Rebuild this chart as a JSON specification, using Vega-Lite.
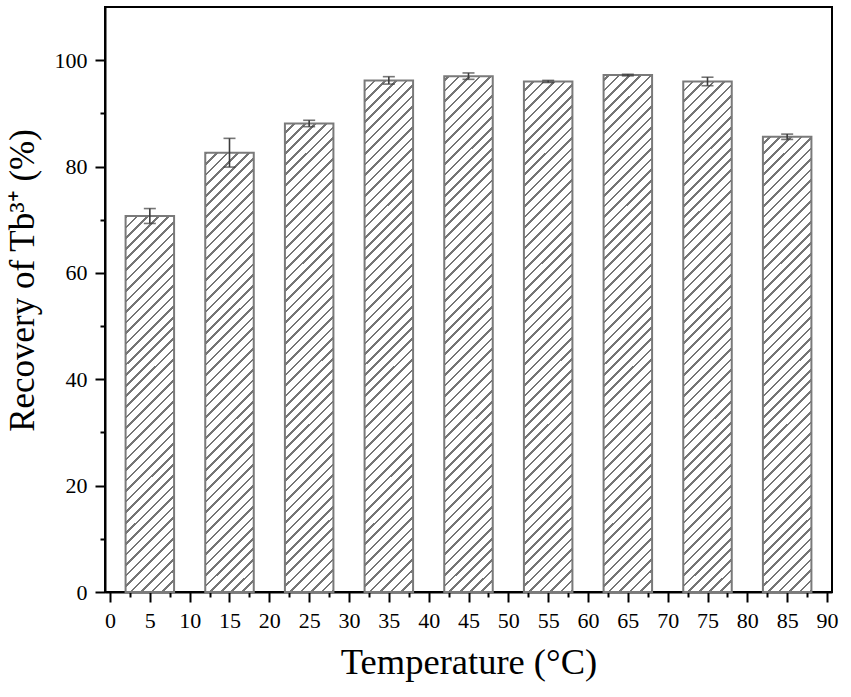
{
  "$schema": "https://vega.github.io/schema/vega-lite/v6.json",
  "autosize": {"type": "none"},
  "width": 727,
  "height": 585,
  "padding": {"left": 105, "top": 7, "right": 19, "bottom": 105},
  "background": "white",
  "config": {
    "view": {"stroke": "black", "strokeWidth": 2},
    "axis": {
      "grid": false,
      "domainColor": "black",
      "domainWidth": 2,
      "tickColor": "black",
      "tickWidth": 2,
      "labelFont": "Liberation Serif",
      "labelFontSize": 22,
      "labelColor": "black",
      "titleFont": "Liberation Serif",
      "titleFontWeight": "normal",
      "titleColor": "black",
      "labelOverlap": false,
      "labelFlush": false,
      "labelBound": false
    }
  },
  "data": {
    "values": [
      {"T": 5, "R": 70.7, "E": 1.4},
      {"T": 15, "R": 82.6, "E": 2.7},
      {"T": 25, "R": 88.1, "E": 0.6},
      {"T": 35, "R": 96.2, "E": 0.7},
      {"T": 45, "R": 97.0, "E": 0.6},
      {"T": 55, "R": 96.0, "E": 0.2},
      {"T": 65, "R": 97.2, "E": 0.15},
      {"T": 75, "R": 96.0, "E": 0.8},
      {"T": 85, "R": 85.6, "E": 0.5}
    ]
  },
  "encoding": {
    "x": {
      "field": "T",
      "type": "quantitative",
      "scale": {"domain": [0, 90], "nice": false, "zero": false},
      "axis": {
        "title": "Temperature (°C)",
        "titleFontSize": 36.5,
        "titlePadding": 13,
        "values": [0, 2.5, 5, 7.5, 10, 12.5, 15, 17.5, 20, 22.5, 25, 27.5, 30, 32.5, 35, 37.5, 40, 42.5, 45, 47.5, 50, 52.5, 55, 57.5, 60, 62.5, 65, 67.5, 70, 72.5, 75, 77.5, 80, 82.5, 85, 87.5, 90],
        "labelExpr": "datum.value % 5 === 0 ? format(datum.value, 'd') : ''",
        "tickSize": {"condition": {"test": "datum.value % 5 !== 0", "value": 5}, "value": 10},
        "labelPadding": 8
      }
    },
    "y": {
      "field": "R",
      "type": "quantitative",
      "scale": {"domain": [0, 110], "nice": false},
      "axis": {
        "title": "Recovery of Tb³⁺ (%)",
        "titleFontSize": 35,
        "titlePadding": 14,
        "titleY": 273,
        "values": [0, 10, 20, 30, 40, 50, 60, 70, 80, 90, 100],
        "labelExpr": "datum.value % 20 === 0 ? format(datum.value, 'd') : ''",
        "tickSize": {"condition": {"test": "datum.value % 20 !== 0", "value": 5}, "value": 10},
        "labelPadding": 8
      }
    }
  },
  "layer": [
    {
      "mark": {
        "type": "bar",
        "width": 48.5,
        "stroke": null,
        "fill": {
          "gradient": "linear",
          "x1": 0, "y1": 0, "x2": 0.0892, "y2": 1.0755,
          "stops": [
            {"offset": 0, "color": "#fff"},
            {"offset": 0.0125, "color": "#fff"}, {"offset": 0.0125, "color": "#757575"}, {"offset": 0.0167, "color": "#757575"}, {"offset": 0.0167, "color": "#fff"},
            {"offset": 0.0292, "color": "#fff"}, {"offset": 0.0292, "color": "#757575"}, {"offset": 0.0333, "color": "#757575"}, {"offset": 0.0333, "color": "#fff"},
            {"offset": 0.0458, "color": "#fff"}, {"offset": 0.0458, "color": "#757575"}, {"offset": 0.05, "color": "#757575"}, {"offset": 0.05, "color": "#fff"},
            {"offset": 0.0625, "color": "#fff"}, {"offset": 0.0625, "color": "#757575"}, {"offset": 0.0667, "color": "#757575"}, {"offset": 0.0667, "color": "#fff"},
            {"offset": 0.0792, "color": "#fff"}, {"offset": 0.0792, "color": "#757575"}, {"offset": 0.0833, "color": "#757575"}, {"offset": 0.0833, "color": "#fff"},
            {"offset": 0.0958, "color": "#fff"}, {"offset": 0.0958, "color": "#757575"}, {"offset": 0.1, "color": "#757575"}, {"offset": 0.1, "color": "#fff"},
            {"offset": 0.1125, "color": "#fff"}, {"offset": 0.1125, "color": "#757575"}, {"offset": 0.1167, "color": "#757575"}, {"offset": 0.1167, "color": "#fff"},
            {"offset": 0.1292, "color": "#fff"}, {"offset": 0.1292, "color": "#757575"}, {"offset": 0.1333, "color": "#757575"}, {"offset": 0.1333, "color": "#fff"},
            {"offset": 0.1458, "color": "#fff"}, {"offset": 0.1458, "color": "#757575"}, {"offset": 0.15, "color": "#757575"}, {"offset": 0.15, "color": "#fff"},
            {"offset": 0.1625, "color": "#fff"}, {"offset": 0.1625, "color": "#757575"}, {"offset": 0.1667, "color": "#757575"}, {"offset": 0.1667, "color": "#fff"},
            {"offset": 0.1792, "color": "#fff"}, {"offset": 0.1792, "color": "#757575"}, {"offset": 0.1833, "color": "#757575"}, {"offset": 0.1833, "color": "#fff"},
            {"offset": 0.1958, "color": "#fff"}, {"offset": 0.1958, "color": "#757575"}, {"offset": 0.2, "color": "#757575"}, {"offset": 0.2, "color": "#fff"},
            {"offset": 0.2125, "color": "#fff"}, {"offset": 0.2125, "color": "#757575"}, {"offset": 0.2167, "color": "#757575"}, {"offset": 0.2167, "color": "#fff"},
            {"offset": 0.2292, "color": "#fff"}, {"offset": 0.2292, "color": "#757575"}, {"offset": 0.2333, "color": "#757575"}, {"offset": 0.2333, "color": "#fff"},
            {"offset": 0.2458, "color": "#fff"}, {"offset": 0.2458, "color": "#757575"}, {"offset": 0.25, "color": "#757575"}, {"offset": 0.25, "color": "#fff"},
            {"offset": 0.2625, "color": "#fff"}, {"offset": 0.2625, "color": "#757575"}, {"offset": 0.2667, "color": "#757575"}, {"offset": 0.2667, "color": "#fff"},
            {"offset": 0.2792, "color": "#fff"}, {"offset": 0.2792, "color": "#757575"}, {"offset": 0.2833, "color": "#757575"}, {"offset": 0.2833, "color": "#fff"},
            {"offset": 0.2958, "color": "#fff"}, {"offset": 0.2958, "color": "#757575"}, {"offset": 0.3, "color": "#757575"}, {"offset": 0.3, "color": "#fff"},
            {"offset": 0.3125, "color": "#fff"}, {"offset": 0.3125, "color": "#757575"}, {"offset": 0.3167, "color": "#757575"}, {"offset": 0.3167, "color": "#fff"},
            {"offset": 0.3292, "color": "#fff"}, {"offset": 0.3292, "color": "#757575"}, {"offset": 0.3333, "color": "#757575"}, {"offset": 0.3333, "color": "#fff"},
            {"offset": 0.3458, "color": "#fff"}, {"offset": 0.3458, "color": "#757575"}, {"offset": 0.35, "color": "#757575"}, {"offset": 0.35, "color": "#fff"},
            {"offset": 0.3625, "color": "#fff"}, {"offset": 0.3625, "color": "#757575"}, {"offset": 0.3667, "color": "#757575"}, {"offset": 0.3667, "color": "#fff"},
            {"offset": 0.3792, "color": "#fff"}, {"offset": 0.3792, "color": "#757575"}, {"offset": 0.3833, "color": "#757575"}, {"offset": 0.3833, "color": "#fff"},
            {"offset": 0.3958, "color": "#fff"}, {"offset": 0.3958, "color": "#757575"}, {"offset": 0.4, "color": "#757575"}, {"offset": 0.4, "color": "#fff"},
            {"offset": 0.4125, "color": "#fff"}, {"offset": 0.4125, "color": "#757575"}, {"offset": 0.4167, "color": "#757575"}, {"offset": 0.4167, "color": "#fff"},
            {"offset": 0.4292, "color": "#fff"}, {"offset": 0.4292, "color": "#757575"}, {"offset": 0.4333, "color": "#757575"}, {"offset": 0.4333, "color": "#fff"},
            {"offset": 0.4458, "color": "#fff"}, {"offset": 0.4458, "color": "#757575"}, {"offset": 0.45, "color": "#757575"}, {"offset": 0.45, "color": "#fff"},
            {"offset": 0.4625, "color": "#fff"}, {"offset": 0.4625, "color": "#757575"}, {"offset": 0.4667, "color": "#757575"}, {"offset": 0.4667, "color": "#fff"},
            {"offset": 0.4792, "color": "#fff"}, {"offset": 0.4792, "color": "#757575"}, {"offset": 0.4833, "color": "#757575"}, {"offset": 0.4833, "color": "#fff"},
            {"offset": 0.4958, "color": "#fff"}, {"offset": 0.4958, "color": "#757575"}, {"offset": 0.5, "color": "#757575"}, {"offset": 0.5, "color": "#fff"},
            {"offset": 0.5125, "color": "#fff"}, {"offset": 0.5125, "color": "#757575"}, {"offset": 0.5167, "color": "#757575"}, {"offset": 0.5167, "color": "#fff"},
            {"offset": 0.5292, "color": "#fff"}, {"offset": 0.5292, "color": "#757575"}, {"offset": 0.5333, "color": "#757575"}, {"offset": 0.5333, "color": "#fff"},
            {"offset": 0.5458, "color": "#fff"}, {"offset": 0.5458, "color": "#757575"}, {"offset": 0.55, "color": "#757575"}, {"offset": 0.55, "color": "#fff"},
            {"offset": 0.5625, "color": "#fff"}, {"offset": 0.5625, "color": "#757575"}, {"offset": 0.5667, "color": "#757575"}, {"offset": 0.5667, "color": "#fff"},
            {"offset": 0.5792, "color": "#fff"}, {"offset": 0.5792, "color": "#757575"}, {"offset": 0.5833, "color": "#757575"}, {"offset": 0.5833, "color": "#fff"},
            {"offset": 0.5958, "color": "#fff"}, {"offset": 0.5958, "color": "#757575"}, {"offset": 0.6, "color": "#757575"}, {"offset": 0.6, "color": "#fff"},
            {"offset": 0.6125, "color": "#fff"}, {"offset": 0.6125, "color": "#757575"}, {"offset": 0.6167, "color": "#757575"}, {"offset": 0.6167, "color": "#fff"},
            {"offset": 0.6292, "color": "#fff"}, {"offset": 0.6292, "color": "#757575"}, {"offset": 0.6333, "color": "#757575"}, {"offset": 0.6333, "color": "#fff"},
            {"offset": 0.6458, "color": "#fff"}, {"offset": 0.6458, "color": "#757575"}, {"offset": 0.65, "color": "#757575"}, {"offset": 0.65, "color": "#fff"},
            {"offset": 0.6625, "color": "#fff"}, {"offset": 0.6625, "color": "#757575"}, {"offset": 0.6667, "color": "#757575"}, {"offset": 0.6667, "color": "#fff"},
            {"offset": 0.6792, "color": "#fff"}, {"offset": 0.6792, "color": "#757575"}, {"offset": 0.6833, "color": "#757575"}, {"offset": 0.6833, "color": "#fff"},
            {"offset": 0.6958, "color": "#fff"}, {"offset": 0.6958, "color": "#757575"}, {"offset": 0.7, "color": "#757575"}, {"offset": 0.7, "color": "#fff"},
            {"offset": 0.7125, "color": "#fff"}, {"offset": 0.7125, "color": "#757575"}, {"offset": 0.7167, "color": "#757575"}, {"offset": 0.7167, "color": "#fff"},
            {"offset": 0.7292, "color": "#fff"}, {"offset": 0.7292, "color": "#757575"}, {"offset": 0.7333, "color": "#757575"}, {"offset": 0.7333, "color": "#fff"},
            {"offset": 0.7458, "color": "#fff"}, {"offset": 0.7458, "color": "#757575"}, {"offset": 0.75, "color": "#757575"}, {"offset": 0.75, "color": "#fff"},
            {"offset": 0.7625, "color": "#fff"}, {"offset": 0.7625, "color": "#757575"}, {"offset": 0.7667, "color": "#757575"}, {"offset": 0.7667, "color": "#fff"},
            {"offset": 0.7792, "color": "#fff"}, {"offset": 0.7792, "color": "#757575"}, {"offset": 0.7833, "color": "#757575"}, {"offset": 0.7833, "color": "#fff"},
            {"offset": 0.7958, "color": "#fff"}, {"offset": 0.7958, "color": "#757575"}, {"offset": 0.8, "color": "#757575"}, {"offset": 0.8, "color": "#fff"},
            {"offset": 0.8125, "color": "#fff"}, {"offset": 0.8125, "color": "#757575"}, {"offset": 0.8167, "color": "#757575"}, {"offset": 0.8167, "color": "#fff"},
            {"offset": 0.8292, "color": "#fff"}, {"offset": 0.8292, "color": "#757575"}, {"offset": 0.8333, "color": "#757575"}, {"offset": 0.8333, "color": "#fff"},
            {"offset": 0.8458, "color": "#fff"}, {"offset": 0.8458, "color": "#757575"}, {"offset": 0.85, "color": "#757575"}, {"offset": 0.85, "color": "#fff"},
            {"offset": 0.8625, "color": "#fff"}, {"offset": 0.8625, "color": "#757575"}, {"offset": 0.8667, "color": "#757575"}, {"offset": 0.8667, "color": "#fff"},
            {"offset": 0.8792, "color": "#fff"}, {"offset": 0.8792, "color": "#757575"}, {"offset": 0.8833, "color": "#757575"}, {"offset": 0.8833, "color": "#fff"},
            {"offset": 0.8958, "color": "#fff"}, {"offset": 0.8958, "color": "#757575"}, {"offset": 0.9, "color": "#757575"}, {"offset": 0.9, "color": "#fff"},
            {"offset": 0.9125, "color": "#fff"}, {"offset": 0.9125, "color": "#757575"}, {"offset": 0.9167, "color": "#757575"}, {"offset": 0.9167, "color": "#fff"},
            {"offset": 0.9292, "color": "#fff"}, {"offset": 0.9292, "color": "#757575"}, {"offset": 0.9333, "color": "#757575"}, {"offset": 0.9333, "color": "#fff"},
            {"offset": 0.9458, "color": "#fff"}, {"offset": 0.9458, "color": "#757575"}, {"offset": 0.95, "color": "#757575"}, {"offset": 0.95, "color": "#fff"},
            {"offset": 0.9625, "color": "#fff"}, {"offset": 0.9625, "color": "#757575"}, {"offset": 0.9667, "color": "#757575"}, {"offset": 0.9667, "color": "#fff"},
            {"offset": 0.9792, "color": "#fff"}, {"offset": 0.9792, "color": "#757575"}, {"offset": 0.9833, "color": "#757575"}, {"offset": 0.9833, "color": "#fff"},
            {"offset": 0.9958, "color": "#fff"}, {"offset": 0.9958, "color": "#757575"}, {"offset": 1, "color": "#757575"}
          ]
        }
      },
      "encoding": {
        "y": {
          "datum": 109.8,
          "type": "quantitative",
          "scale": {"domain": [0, 110], "nice": false},
          "axis": {
            "title": "Recovery of Tb³⁺ (%)",
            "titleFontSize": 35,
            "titlePadding": 14,
            "titleY": 273,
            "values": [0, 10, 20, 30, 40, 50, 60, 70, 80, 90, 100],
            "labelExpr": "datum.value % 20 === 0 ? format(datum.value, 'd') : ''",
            "tickSize": {"condition": {"test": "datum.value % 20 !== 0", "value": 5}, "value": 10},
            "labelPadding": 8
          }
        },
        "y2": {"datum": 0}
      }
    },
    {
      "mark": {"type": "bar", "width": 51, "fill": "white", "stroke": null},
      "encoding": {
        "y2": {"datum": 109.8}
      }
    },
    {
      "mark": {"type": "bar", "width": 48.5, "fill": null, "fillOpacity": 0, "stroke": "#7a7a7a", "strokeWidth": 2},
      "encoding": {
        "y2": {"datum": 0}
      }
    },
    {
      "mark": {
        "type": "errorbar",
        "ticks": {"size": 12, "thickness": 1.6, "color": "#3c3c3c"},
        "rule": {"color": "#3c3c3c", "strokeWidth": 1.6}
      },
      "encoding": {
        "yError": {"field": "E"}
      }
    }
  ]
}
